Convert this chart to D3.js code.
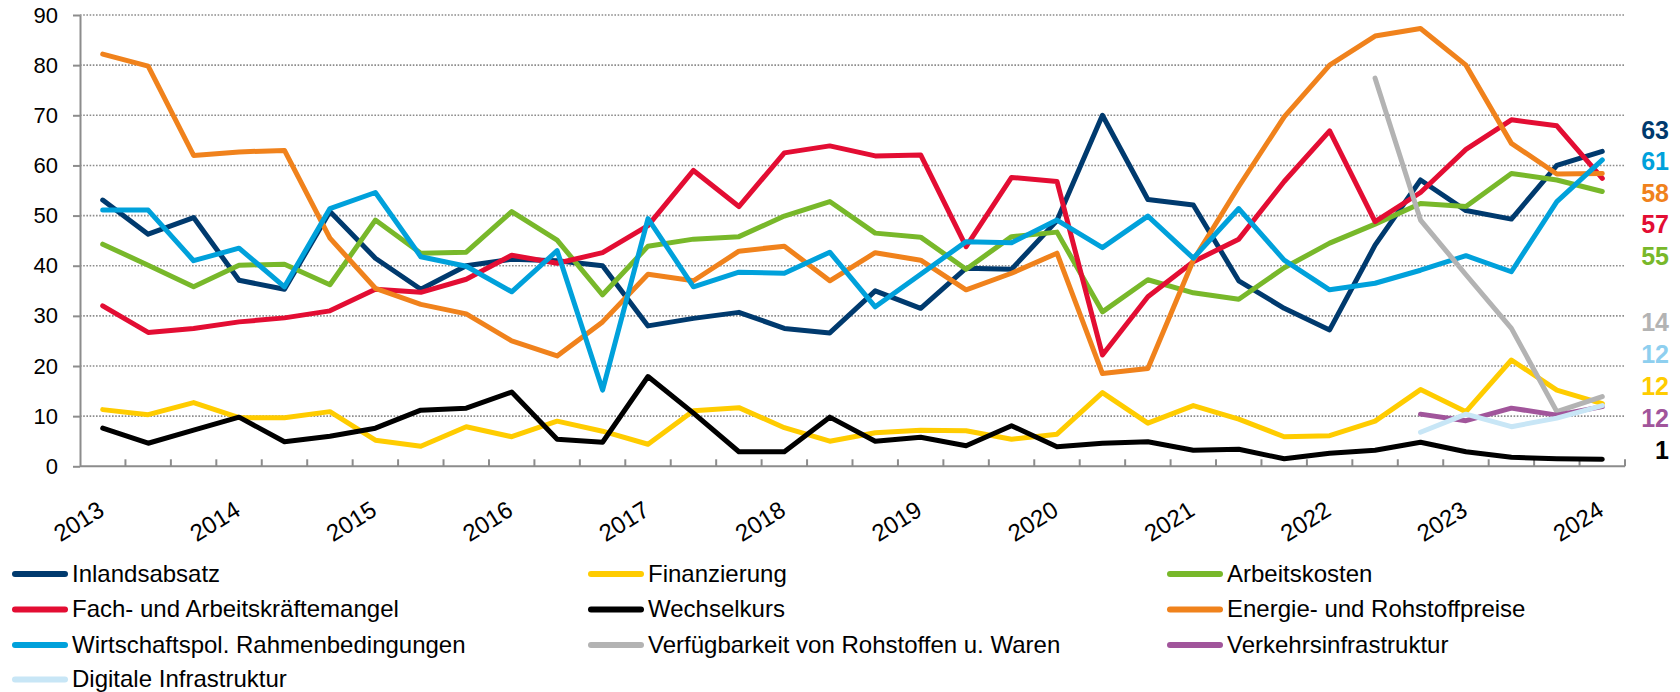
<!DOCTYPE html>
<html><head><meta charset="utf-8">
<script src="https://cdn.jsdelivr.net/npm/d3@7/dist/d3.min.js"></script>
<style>
body{margin:0;background:#fff}
svg{display:block;font-family:"Liberation Sans",Arial,Helvetica,sans-serif}
</style>
</head><body>
<svg id="chart" width="1680" height="692"></svg>
<script>
// ---------- DATA ----------
const categories = [
  "JB 2013","FS 2013","HE 2013","JB 2014","FS 2014","HE 2014",
  "JB 2015","FS 2015","HE 2015","JB 2016","FS 2016","HE 2016",
  "JB 2017","FS 2017","HE 2017","JB 2018","FS 2018","HE 2018",
  "JB 2019","FS 2019","HE 2019","JB 2020","FS 2020","HE 2020",
  "JB 2021","FS 2021","HE 2021","JB 2022","FS 2022","HE 2022",
  "JB 2023","FS 2023","HE 2023","JB 2024"
];
const yearLabels = ["2013","2014","2015","2016","2017","2018","2019","2020","2021","2022","2023","2024"];
const yearLabelCategories = ["JB 2013","JB 2014","JB 2015","JB 2016","JB 2017","JB 2018","JB 2019","JB 2020","JB 2021","JB 2022","JB 2023","JB 2024"];
const yTickValues = [0,10,20,30,40,50,60,70,80,90];

const inlandsabsatz = [53.1,46.3,49.6,37.1,35.3,50.8,41.5,35.3,40.0,41.3,41.0,40.0,28.0,29.5,30.7,27.5,26.6,35.0,31.5,39.5,39.3,49.0,70.0,53.2,52.1,37.0,31.5,27.2,44.1,57.1,51.0,49.3,60.0,62.8];
const finanzierung = [11.3,10.3,12.7,9.7,9.7,10.9,5.2,4.0,7.9,5.9,9.0,7.0,4.4,11.1,11.7,7.7,5.0,6.7,7.2,7.1,5.4,6.4,14.7,8.6,12.1,9.4,5.9,6.1,9.0,15.3,10.9,21.2,15.2,12.5];
const arbeitskosten = [44.3,40.1,35.8,40.1,40.3,36.2,49.1,42.5,42.7,50.8,45.1,34.2,43.9,45.3,45.8,49.9,52.8,46.5,45.7,39.3,45.8,46.7,30.8,37.2,34.6,33.3,39.6,44.5,48.3,52.4,51.8,58.4,57.1,54.8];
const fachkraefte = [32.0,26.7,27.5,28.8,29.6,31.0,35.3,34.7,37.3,42.1,40.5,42.6,48.0,59.0,51.8,62.5,63.9,61.9,62.1,43.8,57.6,56.8,22.2,33.8,40.8,45.3,56.8,66.9,48.8,54.6,63.2,69.1,67.9,57.4];
const wechselkurs = [7.6,4.6,7.2,9.8,4.9,6.0,7.6,11.2,11.6,14.8,5.4,4.8,17.9,10.6,2.9,2.9,9.8,5.0,5.8,4.1,8.1,3.9,4.6,4.9,3.2,3.4,1.5,2.6,3.2,4.8,2.9,1.8,1.5,1.4];
const energie = [82.2,79.8,62.0,62.7,63.0,45.5,35.5,32.3,30.4,25.0,22.0,28.8,38.3,37.0,42.9,43.9,37.0,42.6,41.1,35.2,38.5,42.5,18.5,19.5,41.1,55.8,69.7,80.0,85.8,87.3,80.0,64.4,58.3,58.4];
const wirtschaftspol = [51.1,51.1,41.0,43.5,35.8,51.4,54.6,41.8,39.9,34.8,43.0,15.2,49.4,35.8,38.7,38.5,42.7,31.8,38.3,44.8,44.6,49.1,43.6,49.9,41.5,51.4,41.1,35.2,36.5,39.1,42.0,38.8,52.8,61.1];
// shorter series, starting at the given survey wave
const verfuegbarkeitStart = "FS 2022";
const verfuegbarkeit = [77.4,49.1,38.2,27.5,10.9,13.9];
const verkehrStart = "HE 2022";
const verkehr = [10.4,9.1,11.6,10.2,11.9];
const digitalStart = "HE 2022";
const digital = [6.8,10.4,7.9,9.6,12.1];

const seriesNames = [
  "Inlandsabsatz","Finanzierung","Arbeitskosten",
  "Fach- und Arbeitskräftemangel","Wechselkurs","Energie- und Rohstoffpreise",
  "Wirtschaftspol. Rahmenbedingungen","Verfügbarkeit von Rohstoffen u. Waren","Verkehrsinfrastruktur",
  "Digitale Infrastruktur"
];
const endLabels = ["63","61","58","57","55","14","12","12","12","1"];

// ---------- STYLE ----------
const seriesColors = ["#003A6E","#FFCC00","#78B82A","#E30D33","#000000","#F0821C","#00A1DB","#B3B3B3","#A1559B","#C8E6F6"];
const endLabelColors = ["#003A6E","#00A1DB","#F0821C","#E30D33","#78B82A","#B3B3B3","#8ECFEF","#FFCC00","#A1559B","#000000"];

// ---------- BUILD ----------
const seriesValues = [inlandsabsatz, finanzierung, arbeitskosten, fachkraefte, wechselkurs, energie, wirtschaftspol];
const shortSeries = [[verfuegbarkeitStart, verfuegbarkeit],[verkehrStart, verkehr],[digitalStart, digital]];
const series = seriesNames.map((name,i)=>{
  let pts;
  if (i < seriesValues.length) {
    pts = seriesValues[i].map((v,k)=>({c:categories[k], v}));
  } else {
    const [start, vals] = shortSeries[i - seriesValues.length];
    const s = categories.indexOf(start);
    pts = vals.map((v,k)=>({c:categories[s+k], v}));
  }
  return {name, color: seriesColors[i], pts};
});

const svg = d3.select("#chart");
svg.append("rect").attr("width",1680).attr("height",692).attr("fill","#fff");

const x = d3.scaleBand().domain(categories).range([80, 1625]).paddingInner(0).paddingOuter(0);
const y = d3.scaleLinear().domain([0, 90]).range([466.3, 15]);
const cx = c => x(c) + x.bandwidth()/2;

// gridlines
svg.append("g").selectAll("line").data(yTickValues.filter(d=>d>0)).join("line")
  .attr("x1", 80).attr("x2", 1625)
  .attr("y1", d=>y(d)).attr("y2", d=>y(d))
  .attr("stroke","#8c8c8c").attr("stroke-width",1.6).attr("stroke-dasharray","1.6,1.6");

// y axis
const yAxis = svg.append("g").attr("transform","translate(80,0)")
  .call(d3.axisLeft(y).tickValues(yTickValues).tickSize(7).tickSizeOuter(0).tickPadding(15).tickFormat(d3.format("d")));
yAxis.select(".domain").attr("stroke","#8c8c8c").attr("stroke-width",2);
yAxis.selectAll(".tick line").attr("stroke","#8c8c8c").attr("stroke-width",2);
yAxis.selectAll(".tick text").attr("font-size",22).attr("fill","#000").attr("font-family","Liberation Sans, Arial, sans-serif");

// x axis line + ticks (ticks between categories, pointing up)
const xg = svg.append("g");
xg.append("line").attr("x1",80).attr("x2",1625).attr("y1",y(0)).attr("y2",y(0))
  .attr("stroke","#8c8c8c").attr("stroke-width",2);
xg.selectAll("line.t").data(categories).join("line").attr("class","t")
  .attr("x1", c=>x(c)+x.bandwidth()).attr("x2", c=>x(c)+x.bandwidth())
  .attr("y1", y(0)).attr("y2", y(0)-7)
  .attr("stroke","#8c8c8c").attr("stroke-width",2);
xg.selectAll("text").data(yearLabelCategories).join("text")
  .attr("transform", c=>`translate(${cx(c)+3},${y(0)+48}) rotate(-32)`)
  .attr("text-anchor","end").attr("font-size",24).attr("fill","#000")
  .text((c,i)=>yearLabels[i]);

// lines
const line = d3.line().x(d=>cx(d.c)).y(d=>y(d.v));
svg.append("g").selectAll("path").data(series).join("path")
  .attr("d", d=>line(d.pts))
  .attr("fill","none").attr("stroke", d=>d.color).attr("stroke-width",5)
  .attr("stroke-linejoin","round").attr("stroke-linecap","round");

// end labels
const el = svg.append("g");
endLabels.forEach((t,k)=>{
  const yy = k < 5 ? 130 + k*31.5 : 322 + (k-5)*32;
  el.append("text").attr("x",1669).attr("y",yy).attr("dy","0.35em")
    .attr("text-anchor","end").attr("font-size",25).attr("font-weight","bold")
    .attr("fill", endLabelColors[k]).text(t);
});

// legend
const colX = [12, 588, 1167];
const rowY = [574, 609.5, 645, 679.5];
const lg = svg.append("g");
series.forEach((s,i)=>{
  const gx = colX[i%3], gy = rowY[Math.floor(i/3)];
  lg.append("line").attr("x1",gx+3).attr("x2",gx+53).attr("y1",gy).attr("y2",gy)
    .attr("stroke",s.color).attr("stroke-width",6).attr("stroke-linecap","round");
  lg.append("text").attr("x",gx+60).attr("y",gy).attr("dy","0.33em")
    .attr("font-size",24).attr("fill","#000").text(s.name);
});
</script>
</body></html>
